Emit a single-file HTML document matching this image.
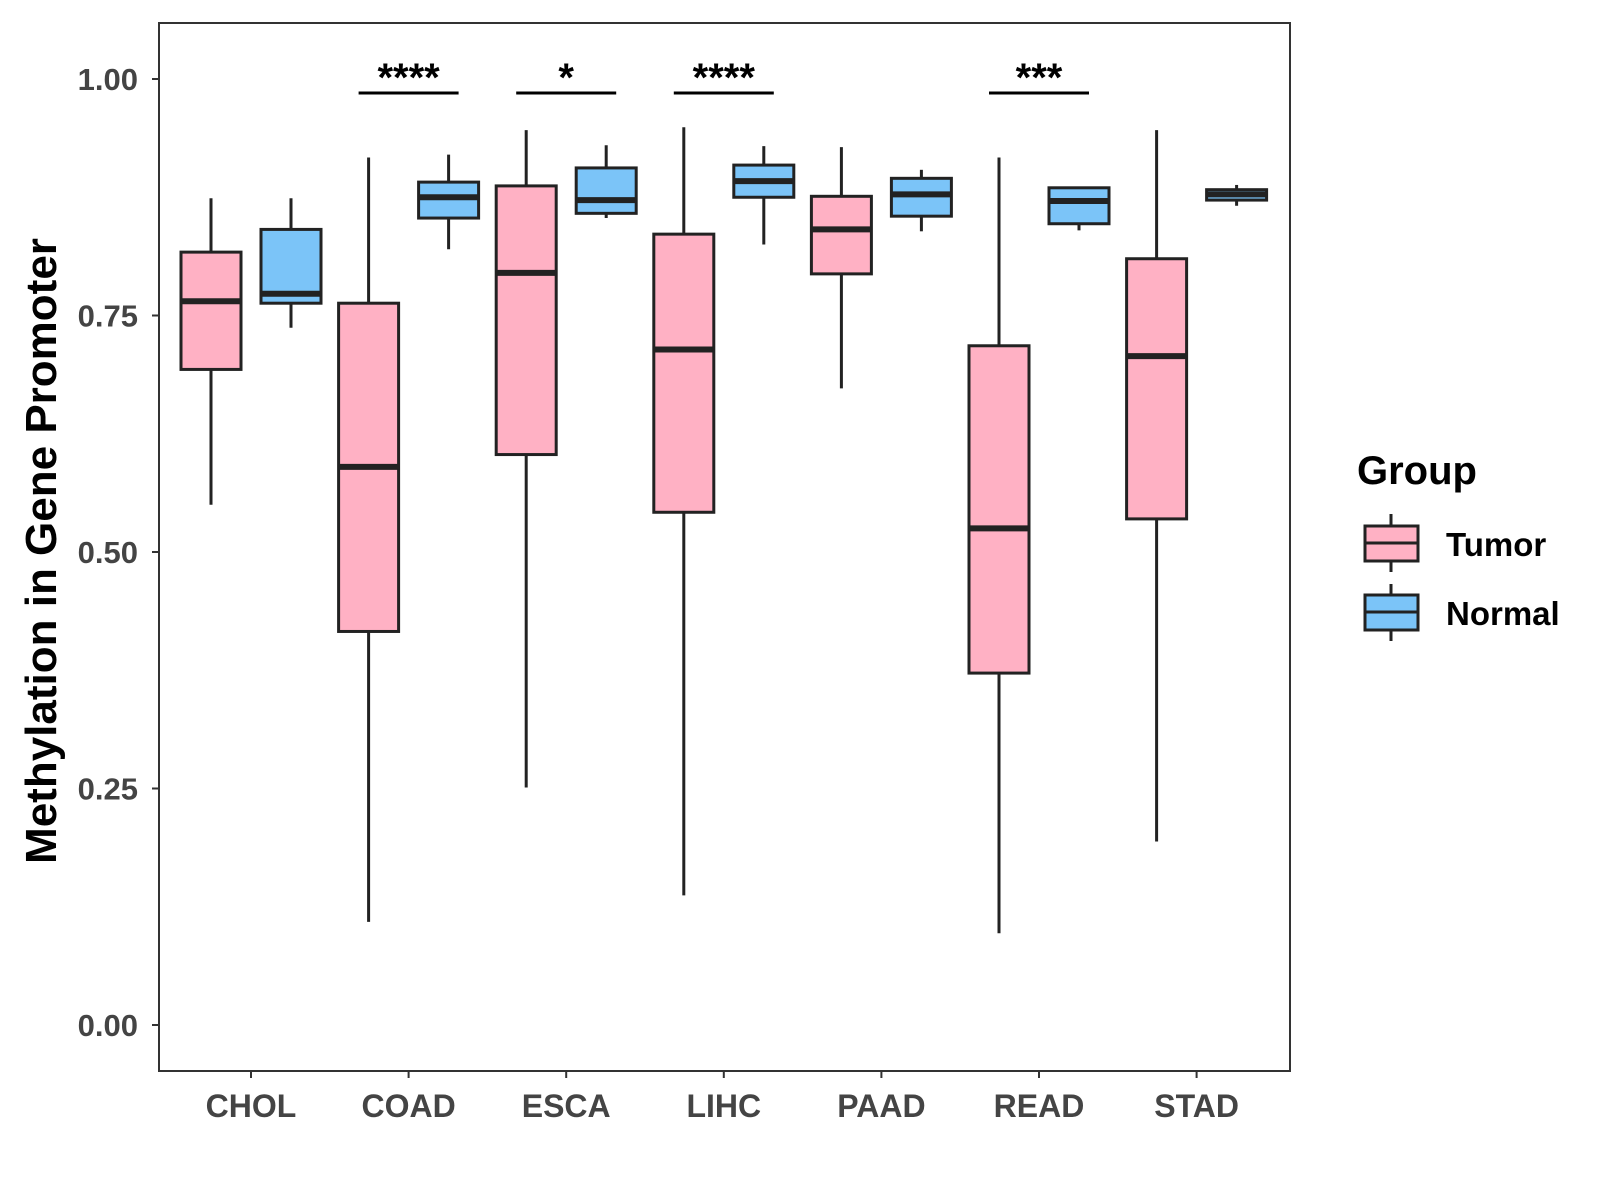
<!DOCTYPE html>
<html><head><meta charset="utf-8"><style>
html,body{margin:0;padding:0;background:#fff}
svg{display:block;font-family:"Liberation Sans",Arial,sans-serif}
</style></head><body>
<svg id="chart" width="1600" height="1200" viewBox="0 0 1600 1200">
<rect x="0" y="0" width="1600" height="1200" fill="#fff"/>
<rect x="159" y="23" width="1131" height="1048" fill="none" stroke="#333" stroke-width="2"/>
<g id="marks"></g>
<text transform="translate(56,551) rotate(-90)" text-anchor="middle" font-size="44" font-weight="bold" fill="#000">Methylation in Gene Promoter</text>
<text x="1357" y="484" font-size="40" font-weight="bold" fill="#000">Group</text>
<g>
<line x1="1391" y1="514" x2="1391" y2="572" stroke="#222" stroke-width="3"/>
<rect x="1365" y="526" width="53" height="35" fill="#FFB1C4" stroke="#222" stroke-width="3"/>
<line x1="1365" y1="543" x2="1418" y2="543" stroke="#222" stroke-width="3"/>
<text x="1446" y="556" font-size="33" font-weight="bold" fill="#000">Tumor</text>
</g>
<g>
<line x1="1391" y1="584" x2="1391" y2="641" stroke="#222" stroke-width="3"/>
<rect x="1365" y="595" width="53" height="35" fill="#7BC4F8" stroke="#222" stroke-width="3"/>
<line x1="1365" y1="612" x2="1418" y2="612" stroke="#222" stroke-width="3"/>
<text x="1446" y="625" font-size="33" font-weight="bold" fill="#000">Normal</text>
</g>
</svg>
<script>
const categories=["CHOL","COAD","ESCA","LIHC","PAAD","READ","STAD"];
const tumorMin=[0.550,0.109,0.251,0.137,0.673,0.097,0.194];
const tumorQ1=[0.693,0.416,0.603,0.542,0.794,0.372,0.535];
const tumorMed=[0.765,0.590,0.795,0.714,0.841,0.525,0.707];
const tumorQ3=[0.817,0.763,0.887,0.836,0.876,0.718,0.810];
const tumorMax=[0.874,0.917,0.946,0.949,0.928,0.917,0.946];
const normalMin=[0.737,0.820,0.853,0.825,0.839,0.840,0.866];
const normalQ1=[0.763,0.853,0.858,0.875,0.855,0.847,0.872];
const normalMed=[0.773,0.875,0.872,0.892,0.878,0.871,0.878];
const normalQ3=[0.841,0.891,0.906,0.909,0.895,0.885,0.883];
const normalMax=[0.874,0.920,0.930,0.929,0.904,0.886,0.888];
const yTicks=[0,0.25,0.5,0.75,1.0];
const yTickLabels=["0.00","0.25","0.50","0.75","1.00"];
const sigCategories=["COAD","ESCA","LIHC","READ"];
const sigLabels=["****","*","****","***"];
const sigLevel=[1.0,1.0,1.0,1.0];

const NS="http://www.w3.org/2000/svg";
const g=document.getElementById('marks');
function y(v){return 1025-v*946;}
function x(i){return 251+i*157.6;}
const dodge=40, bw=60;
function el(tag,attrs,parent){const e=document.createElementNS(NS,tag);for(const k in attrs)e.setAttribute(k,attrs[k]);(parent||g).appendChild(e);return e;}

yTicks.forEach((t,i)=>{
  const tk=el('line',{x1:152,x2:159,y1:y(t),y2:y(t),stroke:'#333','stroke-width':2});
  
  
  const lb=el('text',{x:138,y:y(t)+11,'text-anchor':'end','font-size':31,'font-weight':'bold',fill:'#444'});
  lb.textContent=yTickLabels[i];
  
  
});
categories.forEach((c,i)=>{
  const tk=el('line',{x1:x(i),x2:x(i),y1:1071,y2:1078,stroke:'#333','stroke-width':2});
  
  
  const lb=el('text',{x:x(i),y:1117,'text-anchor':'middle','font-size':32,'font-weight':'bold',fill:'#444'});
  lb.textContent=c;
  
  
});
function box(cx,mn,q1,md,q3,mx,fill,name){
  const gg=el('g',{});
  
  
  el('line',{x1:cx,x2:cx,y1:y(mx),y2:y(mn),stroke:'#222','stroke-width':3},gg);
  el('rect',{x:cx-bw/2,y:y(q3),width:bw,height:Math.max(y(q1)-y(q3),1),fill:fill,stroke:'#222','stroke-width':3},gg);
  el('line',{x1:cx-bw/2,x2:cx+bw/2,y1:y(md),y2:y(md),stroke:'#222','stroke-width':6},gg);
}
categories.forEach((c,i)=>{
  box(x(i)-dodge,tumorMin[i],tumorQ1[i],tumorMed[i],tumorQ3[i],tumorMax[i],'#FFB1C4','box-'+c.toLowerCase()+'-tumor');
  box(x(i)+dodge,normalMin[i],normalQ1[i],normalMed[i],normalQ3[i],normalMax[i],'#7BC4F8','box-'+c.toLowerCase()+'-normal');
});
sigCategories.forEach((c,k)=>{
  const i=categories.indexOf(c);
  const yy=y(sigLevel[k])+14;
  const ln=el('line',{x1:x(i)-dodge-10,x2:x(i)+dodge+10,y1:yy,y2:yy,stroke:'#000','stroke-width':3});
  
  
  const t=el('text',{x:x(i),y:yy-2,'text-anchor':'middle','font-size':40,'font-weight':'bold',fill:'#000'});
  t.textContent=sigLabels[k];
  
  
});
</script>
</body></html>
